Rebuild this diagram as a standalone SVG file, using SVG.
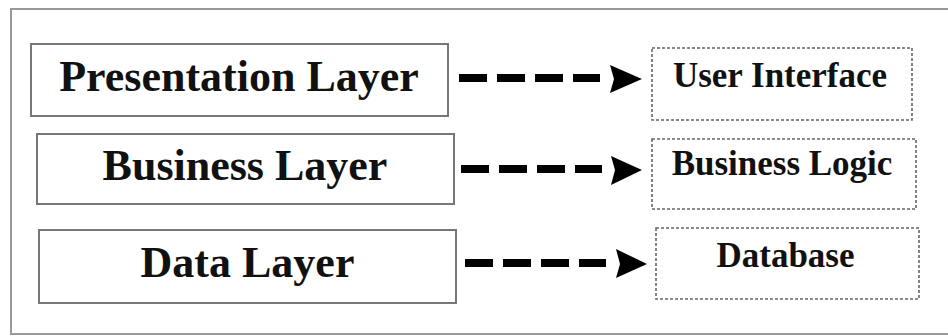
<svg xmlns="http://www.w3.org/2000/svg" width="948" height="336" viewBox="0 0 948 336">
<style>
.frame{fill:none;stroke:#999;stroke-width:2}
.layer{fill:#fff;stroke:#777;stroke-width:2}
.comp{fill:#fff;stroke:#666;stroke-width:1.6;stroke-dasharray:3 2}
.big{font-family:"Liberation Serif","Times New Roman",serif;font-weight:bold;font-size:44px;fill:#111;text-anchor:middle}
.small{font-family:"Liberation Serif","Times New Roman",serif;font-weight:bold;font-size:35px;fill:#111;text-anchor:middle}
.dash{stroke:#000;stroke-width:8;stroke-dasharray:28 10;fill:none}
</style>
<rect width="948" height="336" fill="#fff"/>
<rect class="frame" x="11" y="9" width="950" height="325"/>
<g id="presentation-layer">
<rect class="layer" x="31" y="44" width="417" height="72"/>
<text class="big" x="239" y="91">Presentation Layer</text>
</g>
<g id="business-layer">
<rect class="layer" x="37" y="134" width="417" height="70"/>
<text class="big" x="245" y="180">Business Layer</text>
</g>
<g id="data-layer">
<rect class="layer" x="39" y="230" width="417" height="73"/>
<text class="big" x="247.5" y="277">Data Layer</text>
</g>
<g id="user-interface">
<rect class="comp" x="652" y="48" width="260" height="72"/>
<text class="small" x="780" y="87">User Interface</text>
</g>
<g id="business-logic">
<rect class="comp" x="652" y="139" width="264" height="70"/>
<text class="small" x="782" y="175">Business Logic</text>
</g>
<g id="database">
<rect class="comp" x="656" y="228" width="263" height="71"/>
<text class="small" x="785.5" y="267">Database</text>
</g>
<g id="connectors">
<line class="dash" x1="459" y1="78" x2="600" y2="78"/>
<polygon points="610,65 642,79 610,93 614,79"/>
<line class="dash" x1="461" y1="169" x2="602" y2="169"/>
<polygon points="611,156 642,170 611,185 615,170"/>
<line class="dash" x1="465" y1="263" x2="606" y2="263"/>
<polygon points="616,249 647,264 616,278 620,264"/>
</g>
</svg>
